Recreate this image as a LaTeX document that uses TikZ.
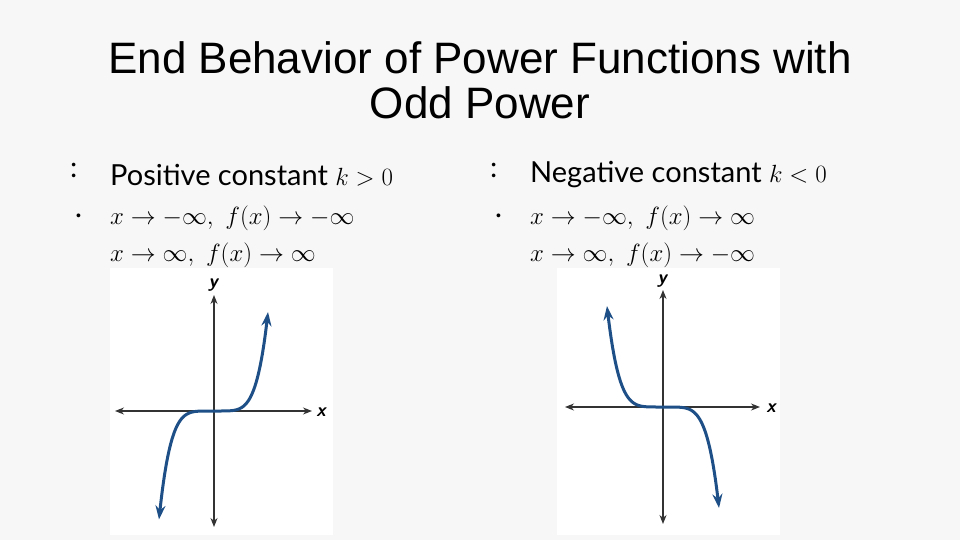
\documentclass[tikz,border=0pt]{standalone}
\usepackage{fontspec}
\setmainfont{Liberation Sans}
\newfontfamily\txtfont{Lato}
\usetikzlibrary{arrows.meta}
\begin{document}
\begin{tikzpicture}[x=1pt,y=-1pt,
  ttl/.style={font=\fontsize{44}{45}\selectfont,align=center,text=black},
  bul/.style={font=\txtfont\fontsize{29}{32}\selectfont,anchor=west,inner sep=0},
  mth/.style={font=\fontsize{27}{30}\selectfont,anchor=west,inner sep=0},
  axis/.style={draw=black!80,line width=1.2pt,-{Stealth[length=9pt,width=7pt]}},
  curve/.style={color={rgb,255:red,30;green,80;blue,135},line width=3pt,{Stealth[length=14pt,width=10pt]}-{Stealth[length=14pt,width=10pt]}},
  lbl/.style={font=\sffamily\bfseries\itshape\fontsize{19}{21}\selectfont,inner sep=0}]
\fill[black!3] (0,0) rectangle (960,540);
\useasboundingbox (0,0) rectangle (960,540);
\node[ttl] (title) at (480,80) {End Behavior of Power Functions with\\Odd Power};
% left column
\node[bul] (b1) at (70,170) {:};
\node[bul] (t1) at (110,175) {Positive constant \normalfont$k>0$};
\node[bul,font=\fontsize{14}{16}\selectfont] (b2) at (76,217) {•};
\node[mth] (m1) at (110,218) {$x\to-\infty,\ f(x)\to-\infty$};
\node[mth] (m2) at (110,255) {$x\to\infty,\ f(x)\to\infty$};
\fill[white] (110,268) rectangle (333,535);
\coordinate (ly1) at (214,527); \coordinate (ly2) at (214,295);
\coordinate (lx1) at (312,411); \coordinate (lx2) at (115,411);
\draw[axis] (214,411) -- (ly2);
\draw[axis] (214,411) -- (ly1);
\draw[axis] (214,411) -- (lx1);
\draw[axis] (214,411) -- (lx2);
\node[lbl] (lxl) at (321,412) {x};
\node[lbl] (lyl) at (213,285) {y};
\draw[curve] plot[domain=-55:54,samples=120,smooth] ({214+\x},{411-99*(\x/54)^5});
% right column
\node[bul] (b3) at (490,170) {:};
\node[bul] (t2) at (530,175) {Negative constant \normalfont$k<0$};
\node[bul,font=\fontsize{14}{16}\selectfont] (b4) at (496,217) {•};
\node[mth] (m3) at (530,218) {$x\to-\infty,\ f(x)\to\infty$};
\node[mth] (m4) at (530,255) {$x\to\infty,\ f(x)\to-\infty$};
\fill[white] (557,268) rectangle (780,535);
\coordinate (ry1) at (663,524); \coordinate (ry2) at (663,290);
\draw[axis] (663,407) -- (ry2);
\draw[axis] (663,407) -- (ry1);
\draw[axis] (663,407) -- (760,407);
\draw[axis] (663,407) -- (565,407);
\node[lbl] (rxl) at (771,408) {x};
\node[lbl] (ryl) at (662,281) {y};
\draw[curve] plot[domain=-56:56,samples=120,smooth] ({663+\x},{407+101*(\x/56)^5});
\end{tikzpicture}
\end{document}
